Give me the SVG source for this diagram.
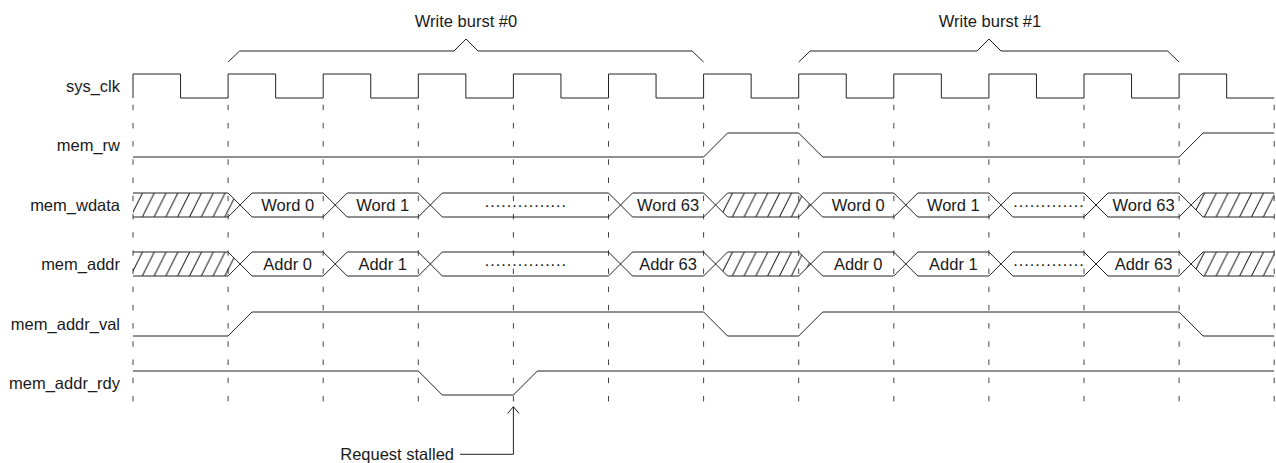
<svg xmlns="http://www.w3.org/2000/svg" xmlns:xlink="http://www.w3.org/1999/xlink" width="1276" height="463" viewBox="0 0 1276 463">
<style>
  .lbl { font-family: "Liberation Sans", Arial, sans-serif; font-size: 16.5px; fill: #1a1a1a; }
  .end { text-anchor: end; }
  .mid { text-anchor: middle; }
  .wave { fill: none; stroke: #222; stroke-width: 1; }
  .grid { fill: none; stroke: #444; stroke-width: 1; stroke-dasharray: 5.5 12.7; }
</style>
<defs>
  <pattern id="hatch" patternUnits="userSpaceOnUse" x="130" y="0" width="11.8" height="24">
    <path d="M-11.3,24 L0.7,0 M0.5,24 L12.5,0" stroke="#1a1a1a" stroke-width="1" fill="none"/>
  </pattern>
  <g id="bus">
    <path fill="url(#hatch)" stroke="none" d="M133,0 H228.1 L240.1,12 L228.1,24 H133 Z M715.6,12 L727.6,0 H798.7 L810.7,12 L798.7,24 H727.6 Z M1191.1,12 L1203.1,0 H1274.2 V24 H1203.1 Z"/>
    <path class="wave" d="M133,0 H228.1 M252.1,0 H323.2 M347.2,0 H418.3 M442.3,0 H608.5 M632.5,0 H703.6 M727.6,0 H798.7 M822.7,0 H893.8 M917.8,0 H988.9 M1012.9,0 H1084 M1108,0 H1179.1 M1203.1,0 H1274.2
      M133,24 H228.1 M252.1,24 H323.2 M347.2,24 H418.3 M442.3,24 H608.5 M632.5,24 H703.6 M727.6,24 H798.7 M822.7,24 H893.8 M917.8,24 H988.9 M1012.9,24 H1084 M1108,24 H1179.1 M1203.1,24 H1274.2
      M228.1,0 L252.1,24 M228.1,24 L252.1,0
      M323.2,0 L347.2,24 M323.2,24 L347.2,0
      M418.3,0 L442.3,24 M418.3,24 L442.3,0
      M608.5,0 L632.5,24 M608.5,24 L632.5,0
      M703.6,0 L727.6,24 M703.6,24 L727.6,0
      M798.7,0 L822.7,24 M798.7,24 L822.7,0
      M893.8,0 L917.8,24 M893.8,24 L917.8,0
      M988.9,0 L1012.9,24 M988.9,24 L1012.9,0
      M1084,0 L1108,24 M1084,24 L1108,0
      M1179.1,0 L1203.1,24 M1179.1,24 L1203.1,0"/>
  </g>
  <marker id="openArrow" markerUnits="userSpaceOnUse" markerWidth="16" markerHeight="16" viewBox="-8 -8 10 16" refX="0" refY="0" orient="auto">
    <path d="M-6.7,-5.7 L0,0 L-6.7,5.7" fill="none" stroke="#222" stroke-width="1"/>
  </marker>
</defs>

<g id="grid">
  <path class="grid" d="M133,104.7 V401.5 M228.1,104.7 V401.5 M323.2,104.7 V401.5 M418.3,104.7 V401.5 M513.4,104.7 V401.5 M608.5,104.7 V401.5 M703.6,104.7 V401.5 M798.7,104.7 V401.5 M893.8,104.7 V401.5 M988.9,104.7 V401.5 M1084,104.7 V401.5 M1179.1,104.7 V401.5 M1274.2,104.7 V401.5"/>
</g>

<g id="burst0">
  <path class="wave" d="M228.1,62 L239.6,51 H454 L466,39 L478,51 H692.1 L703.6,62"/>
  <text class="lbl mid" x="466" y="27">Write burst #0</text>
</g>
<g id="burst1">
  <path class="wave" d="M798.7,62 L810.2,51 H977 L989,39 L1001,51 H1167.6 L1179.1,62"/>
  <text class="lbl mid" x="990" y="27">Write burst #1</text>
</g>

<g id="sys_clk">
  <text class="lbl end" x="120" y="92">sys_clk</text>
  <path class="wave" d="M133,98 V74 H180.55 V98 H228.1 V74 H275.65 V98 H323.2 V74 H370.75 V98 H418.3 V74 H465.85 V98 H513.4 V74 H560.95 V98 H608.5 V74 H656.05 V98 H703.6 V74 H751.15 V98 H798.7 V74 H846.25 V98 H893.8 V74 H941.35 V98 H988.9 V74 H1036.45 V98 H1084 V74 H1131.55 V98 H1179.1 V74 H1226.65 V98 H1274.2"/>
</g>

<g id="mem_rw">
  <text class="lbl end" x="120" y="151">mem_rw</text>
  <path class="wave" d="M133,157 H703.6 L727.6,133 H798.7 L822.7,157 H1179.1 L1203.1,133 H1274.2"/>
</g>

<g id="mem_wdata">
  <text class="lbl end" x="120" y="211">mem_wdata</text>
  <use xlink:href="#bus" href="#bus" transform="translate(0,193)"/>
  <text class="lbl mid" x="287.65" y="211">Word 0</text>
  <text class="lbl mid" x="382.75" y="211">Word 1</text>
  <text class="lbl mid" x="525.4" y="211">···············</text>
  <text class="lbl mid" x="668.05" y="211">Word 63</text>
  <text class="lbl mid" x="858.25" y="211">Word 0</text>
  <text class="lbl mid" x="953.35" y="211">Word 1</text>
  <text class="lbl mid" x="1048.45" y="211">·············</text>
  <text class="lbl mid" x="1143.55" y="211">Word 63</text>
</g>

<g id="mem_addr">
  <text class="lbl end" x="120" y="270">mem_addr</text>
  <use xlink:href="#bus" href="#bus" transform="translate(0,252)"/>
  <text class="lbl mid" x="287.65" y="270">Addr 0</text>
  <text class="lbl mid" x="382.75" y="270">Addr 1</text>
  <text class="lbl mid" x="525.4" y="270">···············</text>
  <text class="lbl mid" x="668.05" y="270">Addr 63</text>
  <text class="lbl mid" x="858.25" y="270">Addr 0</text>
  <text class="lbl mid" x="953.35" y="270">Addr 1</text>
  <text class="lbl mid" x="1048.45" y="270">·············</text>
  <text class="lbl mid" x="1143.55" y="270">Addr 63</text>
</g>

<g id="mem_addr_val">
  <text class="lbl end" x="120" y="330">mem_addr_val</text>
  <path class="wave" d="M133,336 H228.1 L252.1,312 H703.6 L727.6,336 H798.7 L822.7,312 H1179.1 L1203.1,336 H1274.2"/>
</g>

<g id="mem_addr_rdy">
  <text class="lbl end" x="120" y="389">mem_addr_rdy</text>
  <path class="wave" d="M133,371 H418.3 L442.3,395 H513.4 L537.4,371 H1274.2"/>
</g>

<g id="request_stalled">
  <text class="lbl end" x="454" y="460">Request stalled</text>
</g>

<g id="connectors">
  <path class="wave" d="M460,454.3 H513.4 V406.7" marker-end="url(#openArrow)"/>
</g>
</svg>
